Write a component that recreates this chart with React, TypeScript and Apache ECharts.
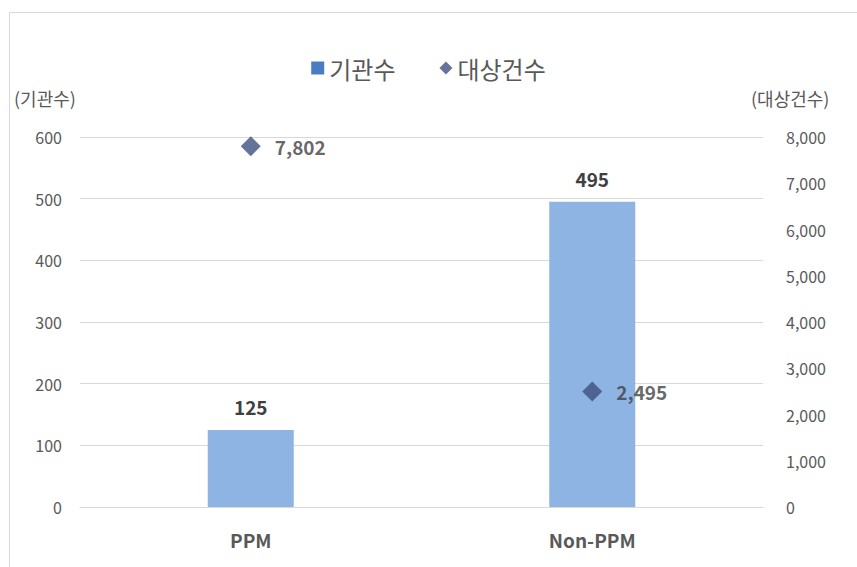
import React, { useEffect, useRef } from "react";
import * as echarts from "echarts";

const categories = ["PPM", "Non-PPM"];
const institutionCounts = [125, 495];
const targetCounts = [7802, 2495];
const leftTicks = [0, 600, 100];
const rightTicks = [0, 8000, 1000];

export default function App() {
  const ref = useRef<HTMLDivElement>(null);
  useEffect(() => {
    if (!ref.current) return;
    const chart = echarts.init(ref.current, null, { renderer: "svg" });
    const font = "'Malgun Gothic', 'Noto Sans CJK KR', 'Open Sans', sans-serif";
    chart.setOption({
      animation: false,
      backgroundColor: "#ffffff",
      textStyle: { fontFamily: font },
      graphic: [
        {
          type: "rect",
          shape: { x: 9.5, y: 12.5, width: 900, height: 600 },
          style: { fill: "none", stroke: "#d9d9d9", lineWidth: 1 },
          silent: true,
        },
      ],
      legend: {
        top: 51,
        left: "center",
        itemGap: 44,
        itemWidth: 13,
        itemHeight: 13,
        textStyle: { fontSize: 24, color: "#595959", fontFamily: font },
        data: [
          { name: "기관수", icon: "rect", itemStyle: { color: "#4A7CC4" } },
          { name: "대상건수", icon: "diamond", itemStyle: { color: "#3F4F7F" } },
        ],
      },
      grid: { left: 80, right: 94, top: 137, bottom: 60, containLabel: false },
      xAxis: {
        type: "category",
        data: categories,
        axisLine: { lineStyle: { color: "#d9d9d9" } },
        axisTick: { show: false },
        axisLabel: {
          fontSize: 19,
          fontWeight: "bold",
          color: "#595959",
          margin: 23,
          fontFamily: font,
        },
      },
      yAxis: [
        {
          type: "value",
          min: leftTicks[0],
          max: leftTicks[1],
          interval: leftTicks[2],
          name: "(기관수)",
          nameLocation: "end",
          nameGap: 30,
          nameTextStyle: { fontSize: 18, color: "#595959", align: "left", padding: [0, 0, 0, -66] },
          axisLine: { show: false },
          axisTick: { show: false },
          axisLabel: { fontSize: 16, color: "#595959", margin: 18 },
          splitLine: { lineStyle: { color: "#d9d9d9" } },
        },
        {
          type: "value",
          min: rightTicks[0],
          max: rightTicks[1],
          interval: rightTicks[2],
          name: "(대상건수)",
          nameLocation: "end",
          nameGap: 30,
          nameTextStyle: { fontSize: 18, color: "#595959", align: "left", padding: [0, 0, 0, -12] },
          axisLine: { show: false },
          axisTick: { show: false },
          axisLabel: {
            fontSize: 16,
            color: "#595959",
            margin: 23,
            formatter: (v: number) => v.toLocaleString("en-US"),
          },
          splitLine: { show: false },
        },
      ],
      series: [
        {
          name: "기관수",
          type: "bar",
          data: institutionCounts,
          barWidth: 86,
          yAxisIndex: 0,
          itemStyle: { color: "#8DB4E2" },
          label: {
            show: true,
            position: "top",
            distance: 14,
            fontSize: 19,
            fontWeight: "bold",
            color: "#404040",
          },
        },
        {
          name: "대상건수",
          type: "scatter",
          data: targetCounts,
          yAxisIndex: 1,
          symbol: "diamond",
          symbolSize: 20,
          itemStyle: { color: "#3F4F7F" },
          label: {
            show: true,
            position: "right",
            distance: 14,
            fontSize: 19,
            fontWeight: "bold",
            color: "#404040",
            formatter: (p: any) => Number(p.value).toLocaleString("en-US"),
          },
        },
      ],
    });
    return () => chart.dispose();
  }, []);
  return (
    <div
      ref={ref}
      style={{ position: "fixed", left: 0, top: 0, width: 857, height: 567 }}
    />
  );
}
